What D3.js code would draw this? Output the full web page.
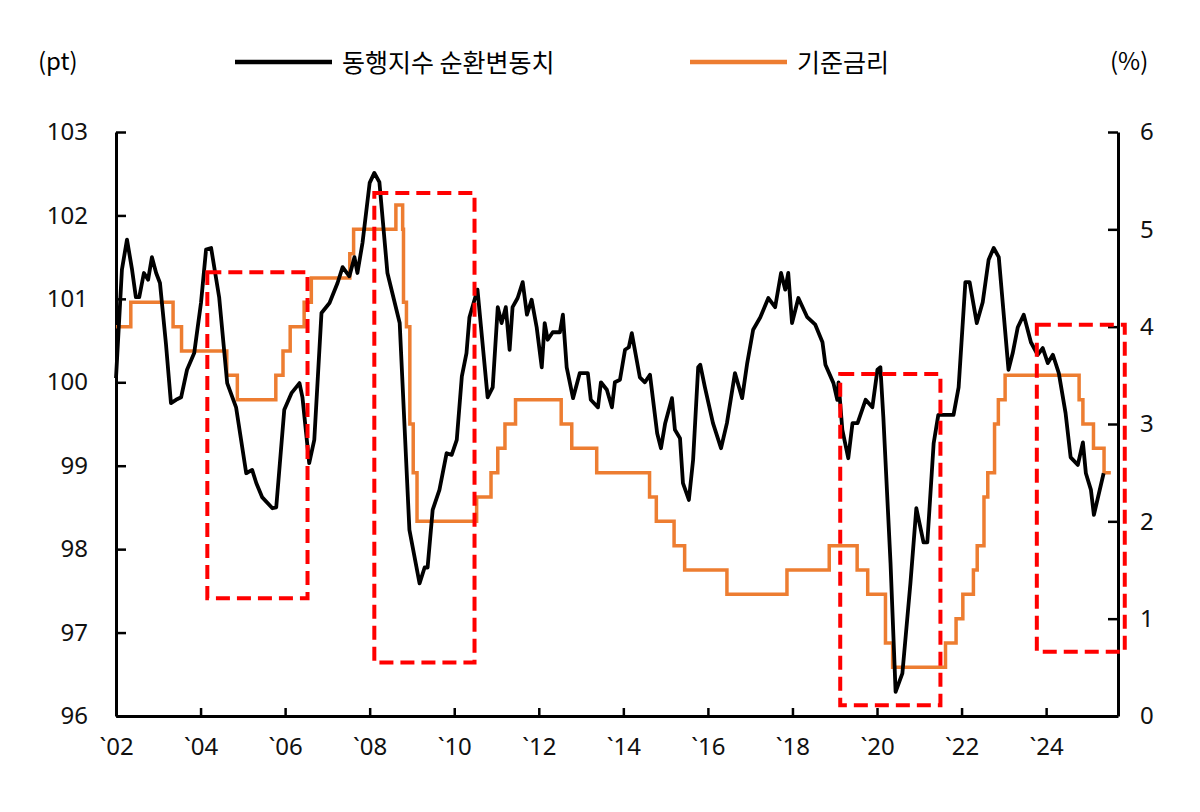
<!DOCTYPE html>
<html>
<head>
<meta charset="utf-8">
<script src="https://cdn.jsdelivr.net/npm/d3@7"></script>
<style>
body{margin:0;background:#fff;}
text{font-family:"Noto Sans CJK KR","Noto Sans",sans-serif;}
.num text{font-family:"Noto Sans","DejaVu Sans",sans-serif;}
</style>
</head>
<body>
<svg></svg>
<script>
// 동행지수 순환변동치 (pt), [year, value]
var cycleIndex = [[2002.00,100.05],[2002.14,101.35],[2002.26,101.71],[2002.38,101.35],[2002.47,101.02],[2002.55,101.02],[2002.66,101.31],[2002.76,101.23],[2002.85,101.50],[2002.95,101.31],[2003.04,101.19],[2003.18,100.47],[2003.30,99.75],[2003.42,99.79],[2003.54,99.82],[2003.68,100.15],[2003.85,100.35],[2004.01,100.95],[2004.13,101.59],[2004.25,101.61],[2004.44,101.02],[2004.63,99.99],[2004.84,99.70],[2005.08,98.91],[2005.22,98.95],[2005.32,98.79],[2005.46,98.62],[2005.70,98.49],[2005.79,98.50],[2005.98,99.67],[2006.15,99.87],[2006.34,99.99],[2006.41,99.82],[2006.57,99.03],[2006.69,99.31],[2006.86,100.83],[2007.05,100.95],[2007.24,101.19],[2007.36,101.38],[2007.52,101.27],[2007.64,101.50],[2007.71,101.31],[2007.83,101.67],[2008.00,102.39],[2008.11,102.51],[2008.23,102.40],[2008.42,101.31],[2008.71,100.71],[2008.94,98.23],[2009.18,97.59],[2009.30,97.78],[2009.37,97.78],[2009.49,98.47],[2009.65,98.71],[2009.82,99.15],[2009.94,99.13],[2010.06,99.31],[2010.18,100.07],[2010.29,100.35],[2010.36,100.78],[2010.48,100.99],[2010.55,101.11],[2010.79,99.82],[2010.91,99.94],[2011.03,100.90],[2011.12,100.71],[2011.22,100.90],[2011.31,100.39],[2011.38,100.90],[2011.50,101.01],[2011.62,101.20],[2011.72,100.81],[2011.83,100.99],[2011.95,100.66],[2012.07,100.18],[2012.14,100.71],[2012.21,100.51],[2012.33,100.60],[2012.50,100.60],[2012.57,100.81],[2012.66,100.18],[2012.81,99.81],[2012.97,100.11],[2013.16,100.11],[2013.23,99.79],[2013.40,99.70],[2013.47,100.00],[2013.61,99.91],[2013.73,99.70],[2013.80,100.00],[2013.92,100.03],[2014.04,100.39],[2014.13,100.42],[2014.20,100.59],[2014.39,100.06],[2014.51,100.00],[2014.63,100.09],[2014.80,99.39],[2014.89,99.21],[2014.99,99.51],[2015.15,99.81],[2015.22,99.43],[2015.34,99.33],[2015.41,98.79],[2015.55,98.59],[2015.65,99.07],[2015.77,100.18],[2015.82,100.21],[2015.93,99.94],[2016.12,99.51],[2016.31,99.21],[2016.45,99.51],[2016.64,100.11],[2016.81,99.81],[2016.93,100.23],[2017.07,100.63],[2017.24,100.78],[2017.43,101.01],[2017.59,100.90],[2017.73,101.31],[2017.83,101.11],[2017.90,101.31],[2017.99,100.71],[2018.14,101.01],[2018.35,100.78],[2018.54,100.69],[2018.71,100.48],[2018.78,100.21],[2018.97,99.99],[2019.06,99.79],[2019.09,100.00],[2019.18,99.43],[2019.32,99.09],[2019.42,99.51],[2019.54,99.51],[2019.73,99.79],[2019.89,99.70],[2020.01,100.15],[2020.08,100.18],[2020.15,99.58],[2020.32,97.83],[2020.44,96.29],[2020.60,96.51],[2020.79,97.59],[2020.93,98.49],[2021.10,98.08],[2021.19,98.08],[2021.34,99.27],[2021.45,99.61],[2021.81,99.61],[2021.93,99.94],[2022.09,101.20],[2022.19,101.20],[2022.36,100.71],[2022.50,100.96],[2022.64,101.47],[2022.76,101.61],[2022.88,101.50],[2023.11,100.15],[2023.21,100.35],[2023.33,100.66],[2023.47,100.81],[2023.64,100.48],[2023.80,100.33],[2023.92,100.41],[2024.04,100.23],[2024.16,100.33],[2024.30,100.11],[2024.46,99.63],[2024.58,99.10],[2024.75,99.01],[2024.87,99.28],[2024.94,98.91],[2025.06,98.71],[2025.13,98.41],[2025.36,98.91]]

// 기준금리 (%), change points [year, rate]
var baseRate = [[2002.00,4.0],[2002.35,4.25],[2003.35,4.0],[2003.55,3.75],[2004.62,3.5],[2004.87,3.25],[2005.78,3.5],[2005.95,3.75],[2006.12,4.0],[2006.45,4.25],[2006.62,4.5],[2007.53,4.75],[2007.62,5.0],[2008.62,5.25],[2008.78,5.0],[2008.80,4.25],[2008.87,4.0],[2008.95,3.0],[2009.03,2.5],[2009.12,2.0],[2010.53,2.25],[2010.87,2.5],[2011.03,2.75],[2011.20,3.0],[2011.45,3.25],[2012.53,3.0],[2012.78,2.75],[2013.37,2.5],[2014.62,2.25],[2014.78,2.0],[2015.20,1.75],[2015.45,1.5],[2016.45,1.25],[2017.87,1.5],[2018.87,1.75],[2019.53,1.5],[2019.78,1.25],[2020.20,0.75],[2020.37,0.5],[2021.62,0.75],[2021.87,1.0],[2022.03,1.25],[2022.28,1.5],[2022.37,1.75],[2022.53,2.25],[2022.62,2.5],[2022.78,3.0],[2022.87,3.25],[2023.03,3.5],[2024.78,3.25],[2024.87,3.0],[2025.12,2.75],[2025.37,2.5],[2025.53,2.5]]

// highlighted periods: [startYear, endYear, top(pt), bottom(pt)]
var boxes = [[2004.16,2006.53,101.32,97.41],[2008.11,2010.48,102.27,96.64],[2019.13,2021.50,100.10,96.13],[2023.78,2025.86,100.69,96.77]]

var yearTicks = d3.range(2002, 2025, 2)
var leftTicks = d3.range(96, 104, 1)
var rightTicks = d3.range(0, 7, 1)

var screen = {width: 1200, height: 812}
var margins = {top: 132, right: 82, bottom: 96, left: 116}
var width = screen.width - margins.left - margins.right
var height = screen.height - margins.top - margins.bottom

var svg = d3.select("svg").attr("width", screen.width).attr("height", screen.height)
var g = svg.append("g").attr("transform", "translate(" + margins.left + "," + margins.top + ")")

var xScale = d3.scaleLinear().domain([2002, 2025.7]).range([0, width])
var yLeft = d3.scaleLinear().domain([96, 103]).range([height, 0])
var yRight = d3.scaleLinear().domain([0, 6]).range([height, 0])

var styleAxis = function(sel){
    sel.attr("class", "num")
    sel.selectAll("path").attr("stroke", "#000").attr("stroke-width", 3)
    sel.selectAll("line").attr("stroke", "#000").attr("stroke-width", 2.5)
    sel.selectAll("text").attr("font-size", 24).attr("fill", "#111")
}

g.append("g").attr("transform", "translate(0," + height + ")")
    .call(d3.axisBottom(xScale).tickValues(yearTicks).tickSizeInner(-8).tickSizeOuter(0)
        .tickPadding(22).tickFormat(function(d){ return "`" + String(d).slice(2) }))
    .call(styleAxis)

g.append("g")
    .call(d3.axisLeft(yLeft).tickValues(leftTicks).tickSizeInner(-10).tickSizeOuter(0)
        .tickPadding(28).tickFormat(d3.format("d")))
    .call(styleAxis)

g.append("g").attr("transform", "translate(" + width + ",0)")
    .call(d3.axisRight(yRight).tickValues(rightTicks).tickSizeInner(-10).tickSizeOuter(0)
        .tickPadding(22).tickFormat(d3.format("d")))
    .call(styleAxis)

var lineLeft = d3.line().x(function(d){ return xScale(d[0]) }).y(function(d){ return yLeft(d[1]) })
var lineRight = d3.line().x(function(d){ return xScale(d[0]) }).y(function(d){ return yRight(d[1]) })
    .curve(d3.curveStepAfter)

g.append("path").datum(baseRate).attr("d", lineRight)
    .attr("fill", "none").attr("stroke", "#ed7d31").attr("stroke-width", 3.5)

g.append("path").datum(cycleIndex).attr("d", lineLeft)
    .attr("fill", "none").attr("stroke", "#000").attr("stroke-width", 3.8).attr("stroke-linejoin", "round")

g.selectAll(".box").data(boxes).enter().append("rect")
    .attr("x", function(d){ return xScale(d[0]) })
    .attr("y", function(d){ return yLeft(d[2]) })
    .attr("width", function(d){ return xScale(d[1]) - xScale(d[0]) })
    .attr("height", function(d){ return yLeft(d[3]) - yLeft(d[2]) })
    .attr("fill", "none").attr("stroke", "#ff0000").attr("stroke-width", 4)
    .attr("stroke-dasharray", "14,7")

// legend and units
svg.append("text").attr("x", 38).attr("y", 70).attr("font-size", 24).text("(pt)")
svg.append("text").attr("x", 1110).attr("y", 70).attr("font-size", 24).text("(%)")
svg.append("line").attr("x1", 235).attr("x2", 332).attr("y1", 62).attr("y2", 62)
    .attr("stroke", "#000").attr("stroke-width", 4.5)
svg.append("text").attr("x", 342).attr("y", 72).attr("font-size", 25).text("동행지수 순환변동치")
svg.append("line").attr("x1", 690).attr("x2", 787).attr("y1", 62).attr("y2", 62)
    .attr("stroke", "#ed7d31").attr("stroke-width", 4.5)
svg.append("text").attr("x", 797).attr("y", 72).attr("font-size", 25).text("기준금리")
</script>
</body>
</html>
